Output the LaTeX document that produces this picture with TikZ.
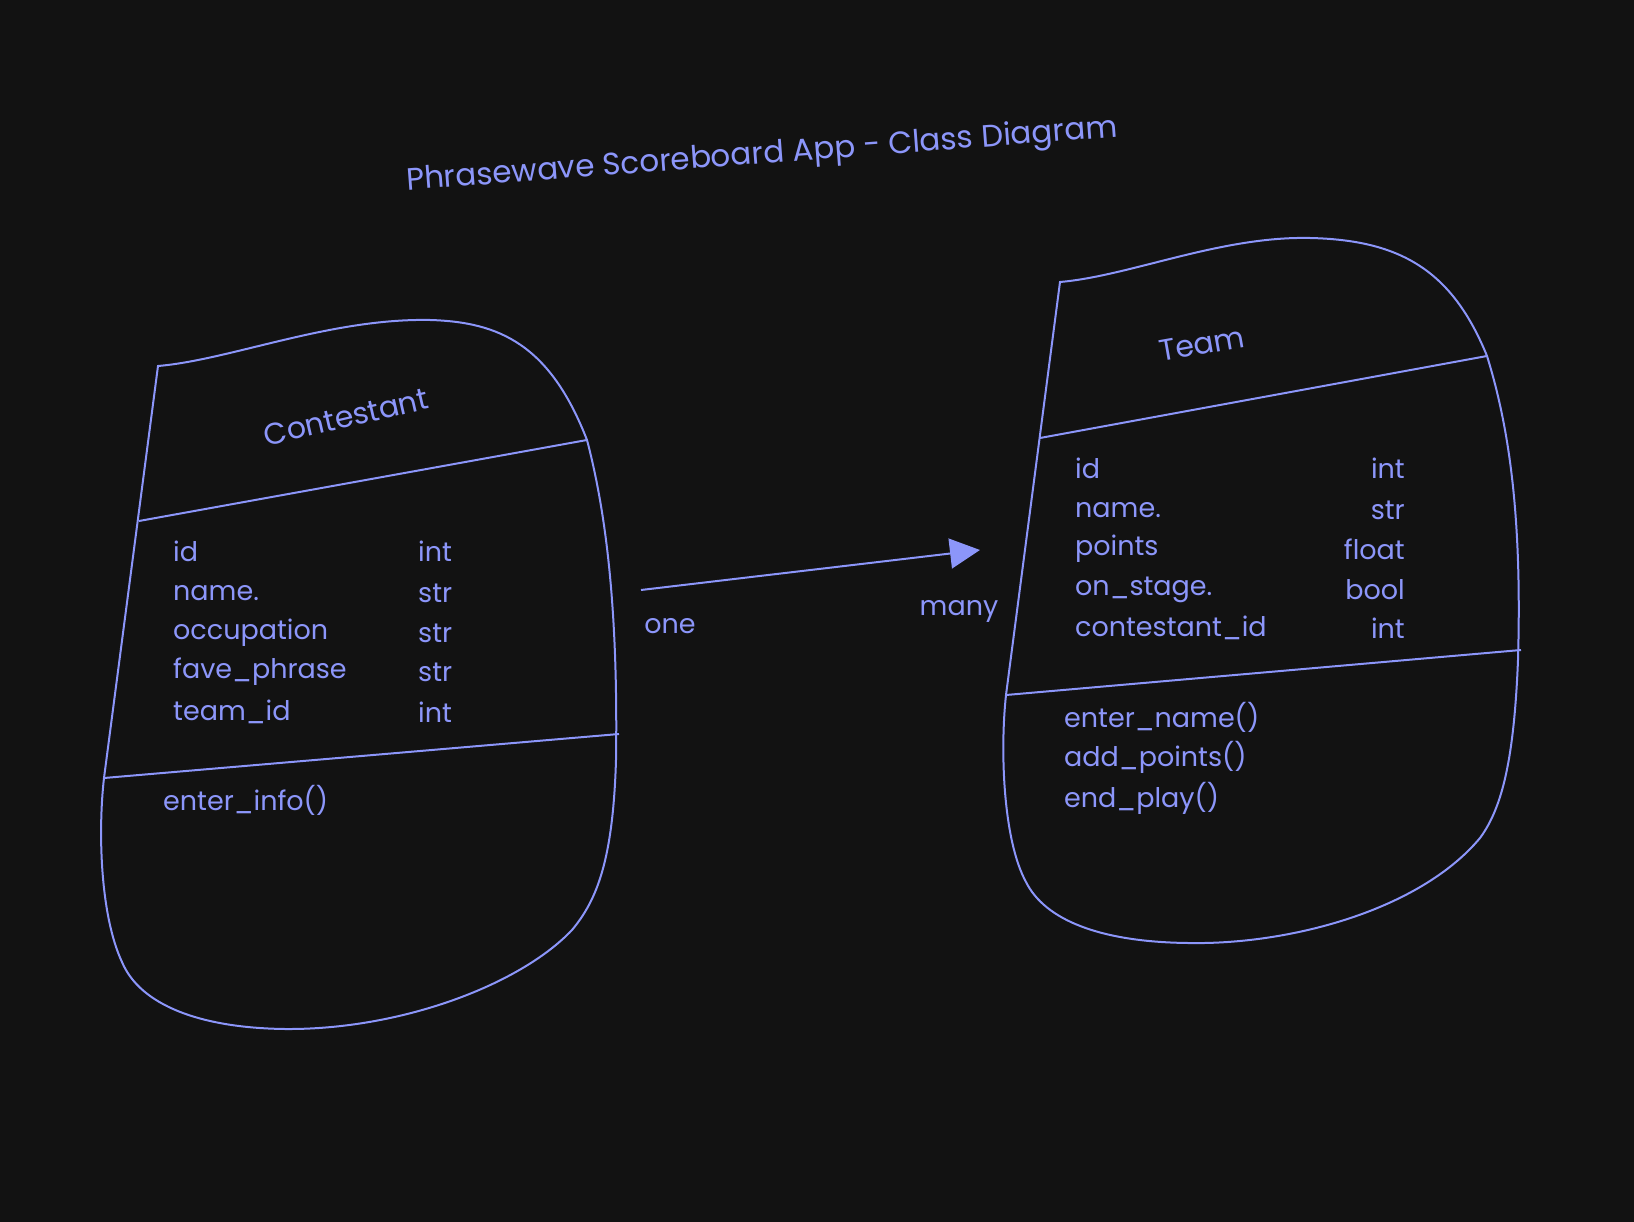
\documentclass[tikz,border=0pt]{standalone}
\usepackage{fontspec}
\setmainfont{Poppins}
\usepackage{tikz}
\usetikzlibrary
  {
    arrows.meta,              % filled triangle tip
    positioning,              % place nodes relative to other nodes
    calc,
  }

\definecolor{ink}{HTML}{8C96FA}
\definecolor{board}{HTML}{121212}

\tikzset{
  outline/.style = {draw=ink, line width=2pt},
  txt/.style     = {text=ink, inner sep=0pt, font=\fontsize{27}{27}\selectfont},
  row/.style     = {txt, anchor=west},
  heading/.style = {txt, font=\fontsize{30}{30}\selectfont},
}

\begin{document}
\begin{tikzpicture}[x=1pt, y=-1pt]
    % page, same size as the drawing
    \fill [board] (0,0) rectangle (1634,1222);
    \useasboundingbox (0,0) rectangle (1634,1222);

    \node [txt, rotate=4.3, font=\fontsize{31}{31}\selectfont] (title) at (762,156)
          {Phrasewave Scoreboard App - Class Diagram};

    % Contestant
    \coordinate (c-tl) at (158,366);
    \coordinate (c-d1l) at (139,521);
    \coordinate (c-d1r) at (587,440);
    \coordinate (c-d2l) at (104,778);
    \coordinate (c-d2r) at (619,734);

    \draw [outline] (c-tl) .. controls (230,360) and (330,318) .. (430,320)
          .. controls (500,322) and (550,345) .. (c-d1r)
          .. controls (608,520) and (618,620) .. (616,760)
          .. controls (613,860) and (597,900) .. (572,930)
          .. controls (520,985) and (400,1030) .. (285,1029)
          .. controls (200,1028) and (140,1005) .. (122,962)
          .. controls (100,915) and (98,830) .. (c-d2l)
          -- cycle;
    \draw [outline] (c-d1l) -- (c-d1r);
    \draw [outline] (c-d2l) -- (c-d2r);

    \node [heading, rotate=13] (contestant) at (346,417) {Contestant};
    \foreach \fld/\typ/\y [count=\i] in
        {id/int/551, name./str/593, occupation/str/633, fave\_phrase/str/672, team\_id/int/712}
      {
        \node [row] (c-f\i) at (173,\y) {\fld};
        \node [row] (c-t\i) at (418,\y) {\typ};
      }
    \node [row] (c-m1) at (163,800) {enter\_info()};

    % Team
    \coordinate (t-tl) at (1060,282);
    \coordinate (t-d1l) at (1040,438);
    \coordinate (t-d1r) at (1487,356);
    \coordinate (t-d2l) at (1006,695);
    \coordinate (t-d2r) at (1521,650);

    \draw [outline] (t-tl) .. controls (1130,276) and (1220,236) .. (1310,238)
          .. controls (1400,240) and (1452,270) .. (t-d1r)
          .. controls (1510,430) and (1522,520) .. (1518,660)
          .. controls (1514,760) and (1502,808) .. (1480,838)
          .. controls (1420,910) and (1290,945) .. (1188,943)
          .. controls (1100,942) and (1045,920) .. (1026,882)
          .. controls (1003,840) and (1000,750) .. (t-d2l)
          -- cycle;
    \draw [outline] (t-d1l) -- (t-d1r);
    \draw [outline] (t-d2l) -- (t-d2r);

    \node [heading, rotate=10] (team) at (1202,344) {Team};
    \foreach \fld/\typ/\y [count=\i] in
        {id/int/468, name./str/510, points/float/549, on\_stage./bool/590, contestant\_id/int/628}
      {
        \node [row] (t-f\i) at (1075,\y) {\fld};
        \node [txt, anchor=east] (t-t\i) at (1405,\y) {\typ};
      }
    \foreach \mth/\y [count=\i] in {enter\_name()/717, add\_points()/757, end\_play()/798}
      \node [row] (t-m\i) at (1064,\y) {\mth};

    % one -> many
    \coordinate (one end) at (641,590);
    \coordinate (many end) at (980,550);
    \draw [draw=ink, line width=2pt, -{Triangle[length=30pt, width=30pt]}]
          (one end) -- (many end);
    \node [txt] (one) at (670,626) {one};
    \node [txt] (many) at (959,611) {many};
\end{tikzpicture}
\end{document}
